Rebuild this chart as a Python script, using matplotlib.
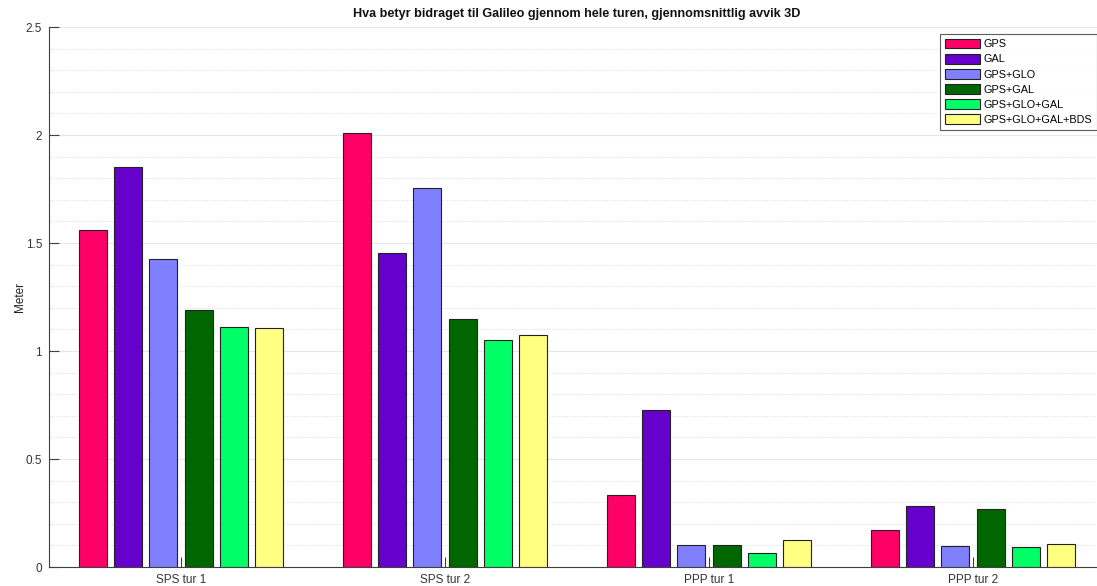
import numpy as np
import matplotlib
matplotlib.use("Agg")
import matplotlib.pyplot as plt
from matplotlib.ticker import MultipleLocator

plt.rcParams['font.family'] = ['Liberation Sans', 'DejaVu Sans']

groups = ["SPS tur 1", "SPS tur 2", "PPP tur 1", "PPP tur 2"]
series_names = ["GPS", "GAL", "GPS+GLO", "GPS+GAL", "GPS+GLO+GAL", "GPS+GLO+GAL+BDS"]
gps = [1.56, 2.01, 0.332, 0.172]
gal = [1.852, 1.453, 0.725, 0.284]
gps_glo = [1.426, 1.753, 0.103, 0.098]
gps_gal = [1.19, 1.148, 0.103, 0.267]
gps_glo_gal = [1.109, 1.051, 0.063, 0.091]
gps_glo_gal_bds = [1.106, 1.073, 0.126, 0.108]
colors = ["#FF0066", "#6600CC", "#8080FF", "#006600", "#00FF66", "#FFFF80"]

series = [gps, gal, gps_glo, gps_gal, gps_glo_gal, gps_glo_gal_bds]

fig = plt.figure(figsize=(10.97, 5.86), dpi=100)
ax = fig.add_axes([49 / 1097, 19 / 586, (1105 - 49) / 1097, (567 - 27) / 586])

x = np.arange(1, len(groups) + 1)
n = len(series)
step = 0.8 / n
width = step * 0.8
for i, (vals, c, name) in enumerate(zip(series, colors, series_names)):
    offs = (i - (n - 1) / 2) * step
    ax.bar(x + offs, vals, width=width, color=c, edgecolor="#222222",
           linewidth=0.8, label=name, zorder=3)

ax.set_xlim(0.5, 4.5)
ax.set_ylim(0, 2.5)
ax.set_xticks(x)
ax.set_xticklabels(groups)
ax.yaxis.set_minor_locator(MultipleLocator(0.1))
ax.set_yticks([0, 0.5, 1, 1.5, 2, 2.5])
ax.set_yticklabels(["0", "0.5", "1", "1.5", "2", "2.5"])
ax.grid(True, which="major", axis="y", color="#e6e6e6", linewidth=0.8, zorder=0)
ax.grid(True, which="minor", axis="y", color="#d0d0d0", linewidth=0.6,
        linestyle=(0, (1, 2)), zorder=0)

for s in ["top", "right"]:
    ax.spines[s].set_visible(False)
for s in ["left", "bottom"]:
    ax.spines[s].set_color("#404040")
    ax.spines[s].set_linewidth(0.8)

ax.tick_params(axis="both", which="major", direction="in", length=7,
               color="#404040", labelsize=8.5, labelcolor="#333333", pad=5)
ax.tick_params(axis="y", which="minor", length=0)

ax.set_ylabel("Meter", fontsize=8.5, color="#222222", labelpad=0)
ax.set_title("Hva betyr bidraget til Galileo gjennom hele turen, gjennomsnittlig avvik 3D",
             fontsize=9.1, fontweight="bold", color="#111111", pad=7)

leg = ax.legend(loc="upper left", bbox_to_anchor=(940 / 1097, 1 - 34 / 586),
                bbox_transform=fig.transFigure, fontsize=7.8, frameon=True,
                fancybox=False, edgecolor="#333333", handlelength=3.3,
                handleheight=1.02, handletextpad=0.3, labelspacing=0.42,
                borderpad=0.42, borderaxespad=0)
leg.get_frame().set_linewidth(0.8)

fig.savefig("out.png", dpi=100)
